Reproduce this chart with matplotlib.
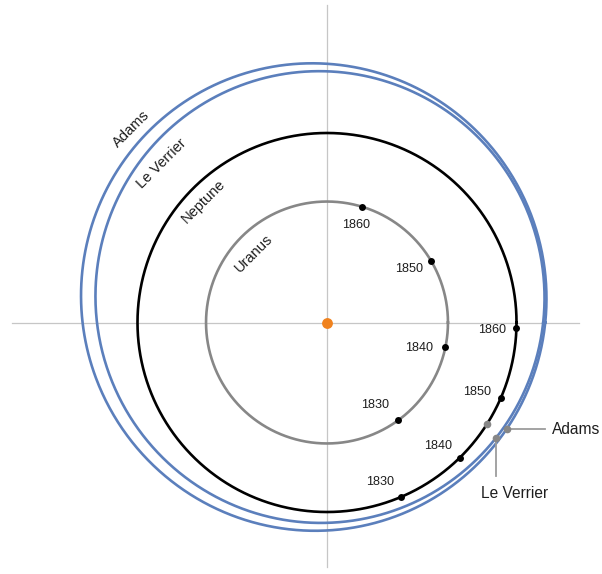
import numpy as np
import matplotlib
matplotlib.use("Agg")
import matplotlib.pyplot as plt

plt.rcParams['font.family'] = ['Liberation Sans', 'DejaVu Sans']

# ---- data (distances in AU, angles = heliocentric longitude in degrees) ----
uranus_radius = 19.2
neptune_radius = 30.08

uranus_years = ["1830", "1840", "1850", "1860"]
uranus_longitudes = [305.9, 348.2, 30.6, 73.4]

neptune_years = ["1830", "1840", "1850", "1860"]
neptune_longitudes = [292.9, 314.5, 336.5, 358.4]

neptune_1846_longitude = 327.7

# predicted orbits: semi-major axis, eccentricity, longitude of perihelion
predicted_names = ["Adams", "Le Verrier"]
predicted_a = [37.16, 35.87]
predicted_e = [0.1226, 0.1168]
predicted_perihelion = [297.5, 285.4]
predicted_1846_longitude = [329.4, 325.7]

orbit_labels = ["Adams", "Le Verrier", "Neptune", "Uranus"]
orbit_label_angle = [135.2, 136.1, 135.5, 136.6]
orbit_label_radius = [43.7, 36.4, 27.4, 16.06]

# ---- layout ----
W, H, DPI = 602, 574, 100
SCALE = 6.30          # pixels per AU
CX, CY = 327.0, 322.5  # sun position in pixels (from top-left)

fig = plt.figure(figsize=(W / DPI, H / DPI), dpi=DPI)
ax = fig.add_axes([0, 0, 1, 1])
ax.set_xlim(-CX / SCALE, (W - CX) / SCALE)
ax.set_ylim(-(H - CY) / SCALE, CY / SCALE)
ax.set_aspect('equal')
ax.axis('off')

BLUE = '#5b7fbc'
GRAY = '#878787'
AXC = '#c6c6c6'
TXT = '#1e1e1e'

# axis cross
ax.plot([(12 - CX) / SCALE, (579 - CX) / SCALE], [0, 0], color=AXC, lw=0.9, zorder=1)
ax.plot([0, 0], [(CY - 567) / SCALE, (CY - 5) / SCALE], color=AXC, lw=0.9, zorder=1)

th = np.linspace(0, 2 * np.pi, 721)

def polar(r, deg):
    t = np.deg2rad(deg)
    return r * np.cos(t), r * np.sin(t)

def ellipse_r(a, e, w, deg):
    return a * (1 - e ** 2) / (1 + e * np.cos(np.deg2rad(deg - w)))

# circular orbits
ax.plot(uranus_radius * np.cos(th), uranus_radius * np.sin(th), color=GRAY, lw=1.9, zorder=2)
ax.plot(neptune_radius * np.cos(th), neptune_radius * np.sin(th), color='black', lw=1.9, zorder=2)

# predicted orbits
degs = np.rad2deg(th)
for a, e, w in zip(predicted_a, predicted_e, predicted_perihelion):
    r = ellipse_r(a, e, w, degs)
    x, y = polar(r, degs)
    ax.plot(x, y, color=BLUE, lw=1.9, zorder=2)

# sun
ax.plot(0, 0, 'o', color='#f0821e', ms=7.8, mec='none', zorder=5)

# Uranus positions
uranus_offsets = [(-23, 15, 'center'), (-12, -1, 'right'), (-8, -8, 'right'), (-5, -18, 'center')]
for yr, lon, (dx, dy, ha) in zip(uranus_years, uranus_longitudes, uranus_offsets):
    x, y = polar(uranus_radius, lon)
    ax.plot(x, y, 'o', color='black', ms=5, mec='none', zorder=5)
    ax.annotate(yr, (x, y), xytext=(dx, dy), textcoords='offset pixels',
                ha=ha, va='center', fontsize=9.1, color=TXT)

# Neptune positions
neptune_offsets = [(-7, 15), (-8, 12), (-10, 6), (-10, -2)]
for yr, lon, (dx, dy) in zip(neptune_years, neptune_longitudes, neptune_offsets):
    x, y = polar(neptune_radius, lon)
    ax.plot(x, y, 'o', color='black', ms=5, mec='none', zorder=5)
    ax.annotate(yr, (x, y), xytext=(dx, dy), textcoords='offset pixels',
                ha='right', va='center', fontsize=9.1, color=TXT)

# Neptune actual 1846
x, y = polar(neptune_radius, neptune_1846_longitude)
ax.plot(x, y, 'o', color=GRAY, ms=5.5, mec='none', zorder=5)

# predicted 1846 positions with callouts
pred_pts = []
for a, e, w, lon in zip(predicted_a, predicted_e, predicted_perihelion, predicted_1846_longitude):
    pred_pts.append(polar(ellipse_r(a, e, w, lon), lon))

# Adams callout (horizontal)
ax_, ay_ = pred_pts[0]
ax.plot([ax_, ax_ + 38 / SCALE], [ay_, ay_], color='#9c9c9c', lw=1.3, zorder=3)
ax.annotate(predicted_names[0], (ax_, ay_), xytext=(45, -1), textcoords='offset pixels',
            ha='left', va='center', fontsize=11.2, color=TXT)
# Le Verrier callout (vertical)
lx, ly = pred_pts[1]
ax.plot([lx, lx], [ly, ly - 38 / SCALE], color='#9c9c9c', lw=1.3, zorder=3)
ax.annotate(predicted_names[1], (lx, ly), xytext=(18, -56), textcoords='offset pixels',
            ha='center', va='center', fontsize=11.2, color=TXT)
for (px, py) in pred_pts:
    ax.plot(px, py, 'o', color=GRAY, ms=5.5, mec='none', zorder=5)

# orbit labels
for lab, ang, rad in zip(orbit_labels, orbit_label_angle, orbit_label_radius):
    x, y = polar(rad, ang)
    ax.text(x, y, lab, rotation=45, rotation_mode='anchor', ha='center', va='center',
            fontsize=10.5, color=TXT)

fig.savefig('out.png', dpi=DPI)
